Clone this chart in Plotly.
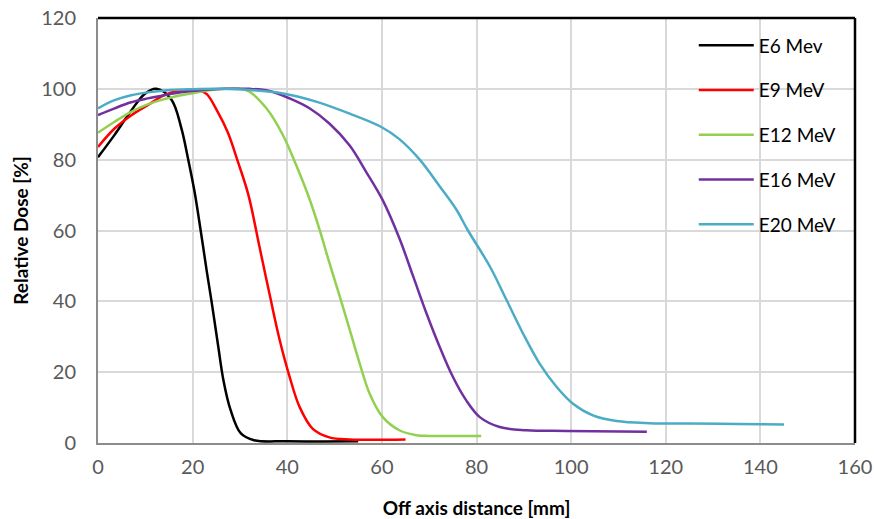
import plotly.graph_objects as go

# ---- data ----
e6_x = [0, 3.5, 7, 9.8, 12.3, 15.5, 17.6, 19, 20.4, 21.7, 23, 24.0, 25.4, 26.5, 28.0, 30.2, 33, 40, 55]
e6_y = [80.7, 87, 93.8, 98.5, 100, 97, 89, 80.5, 71, 60, 48.4, 40, 27.4, 17.8, 9.4, 2.7, 0.8, 0.5, 0.5]

e9_x = [0, 3.5, 7, 10.5, 14, 16.9, 19.5, 21.5, 23, 25.3, 27.4, 29.6, 31.8, 34.1, 36.2, 38.4, 40.5, 42.6, 45.4, 48.9, 53.2, 65]
e9_y = [83.6, 88.8, 92.5, 95.4, 98.2, 99.4, 99.7, 99.5, 98.5, 93.5, 87.8, 79.3, 70, 55.6, 42.4, 29.1, 18.7, 10.2, 4.0, 1.6, 1.0, 1.0]

e12_x = [0, 3.5, 7, 10.5, 14, 17.5, 21.1, 23.9, 27, 30, 32, 35.6, 39.1, 41.9, 44.7, 46.8, 48.9, 51.1, 53.2, 55.3, 57.4, 60.2, 63.7, 67.3, 70, 81]
e12_y = [87.6, 90.7, 93.5, 95.6, 97.1, 98.2, 99, 99.7, 100, 100, 99.2, 94.5, 86.9, 78.4, 68.9, 60.4, 50.9, 41.4, 32, 22.5, 14, 7.3, 3.6, 2.2, 2.0, 2.0]

e16_x = [0, 3.5, 7, 10.5, 14, 17.5, 22.2, 27, 32, 36.2, 40.5, 44.7, 48.9, 53.2, 56.7, 60.2, 63.7, 66.6, 69.4, 72.2, 75, 77.8, 80.7, 84.9, 90.5, 99, 116]
e16_y = [92.6, 94.5, 96.2, 97.3, 98.2, 99, 99.7, 100, 100, 99.4, 97.3, 94.5, 90.2, 84, 76.5, 68.5, 57.8, 47.1, 36.7, 27.2, 18.7, 12.1, 7.3, 4.5, 3.6, 3.4, 3.2]

e20_x = [0, 3.5, 7, 10.5, 14.7, 20, 26, 32, 39.1, 46.1, 53.2, 59.8, 63.7, 68, 72.2, 75.7, 78.2, 82.8, 86.3, 89.8, 93.3, 96.9, 100.4, 104.6, 109.6, 116.6, 125, 135, 145]
e20_y = [94.5, 96.8, 98.2, 99, 99.6, 99.9, 100, 99.7, 98.7, 96.4, 93, 89.3, 85.8, 80, 72.5, 66, 60, 49.9, 40.5, 31, 22.5, 15.9, 11.1, 7.8, 6.2, 5.6, 5.5, 5.4, 5.2]

names = ["E6 Mev", "E9 MeV", "E12 MeV", "E16 MeV", "E20 MeV"]
colors = ["#000000", "#FF0000", "#92D050", "#7030A0", "#4BACC6"]
series = [(e6_x, e6_y), (e9_x, e9_y), (e12_x, e12_y), (e16_x, e16_y), (e20_x, e20_y)]

x_ticks = [0, 20, 40, 60, 80, 100, 120, 140, 160]
y_ticks = [0, 20, 40, 60, 80, 100, 120]

FONT = "Lato"

fig = go.Figure()
for (xs, ys), n, c in zip(series, names, colors):
    fig.add_trace(go.Scatter(
        x=xs, y=ys, name=n, mode="lines", legendgroup=n,
        line=dict(color=c, width=2.5, shape="spline", smoothing=1.0),
    ))

fig.update_layout(
    width=874, height=519,
    margin=dict(l=98, r=19, t=18, b=76),
    paper_bgcolor="white", plot_bgcolor="white",
    font=dict(family=FONT, color="#595959", size=20),
    showlegend=True,
    legend=dict(
        x=0.787, y=0.98, xanchor="left", yanchor="top",
        font=dict(family=FONT, size=19, color="#000000"),
        bgcolor="rgba(0,0,0,0)", traceorder="grouped", tracegroupgap=17,
        itemwidth=55,
    ),
    xaxis=dict(
        range=[0, 160], tickvals=x_ticks, ticktext=[str(v) for v in x_ticks],
        showgrid=True, gridcolor="#D9D9D9", gridwidth=1.5,
        showline=True, linecolor="#8C8C8C", linewidth=2,
        ticks="", zeroline=False, automargin=False, ticklabelstandoff=5,
        ticklabeloverflow="allow",
        tickfont=dict(family=FONT, size=20, color="#595959"),
        title=dict(text="<b>Off axis distance [mm]</b>", standoff=27,
                   font=dict(family=FONT, size=19, color="#000000")),
    ),
    yaxis=dict(
        range=[0, 120], tickvals=y_ticks, ticktext=[str(v) for v in y_ticks],
        showgrid=True, gridcolor="#D9D9D9", gridwidth=1.5,
        showline=True, linecolor="#8C8C8C", linewidth=2,
        ticks="", zeroline=False, automargin=False, ticklabelstandoff=16,
        ticklabeloverflow="allow",
        tickfont=dict(family=FONT, size=20, color="#595959"),
        title=dict(text="<b>Relative Dose [%]</b>", standoff=8,
                   font=dict(family=FONT, size=19, color="#000000")),
    ),
)

# black frame on top and right of the plot area
fig.add_shape(type="line", xref="paper", yref="paper", x0=0, x1=1, y0=1, y1=1,
              line=dict(color="#000000", width=2.5))
fig.add_shape(type="line", xref="paper", yref="paper", x0=1, x1=1, y0=0, y1=1,
              line=dict(color="#000000", width=2.5))

# remove the browser's default 8px page margin so the 874x519 figure fills the window
fig.write_html("out.html", config={"displayModeBar": False},
               post_script="document.body.style.margin='0';")
